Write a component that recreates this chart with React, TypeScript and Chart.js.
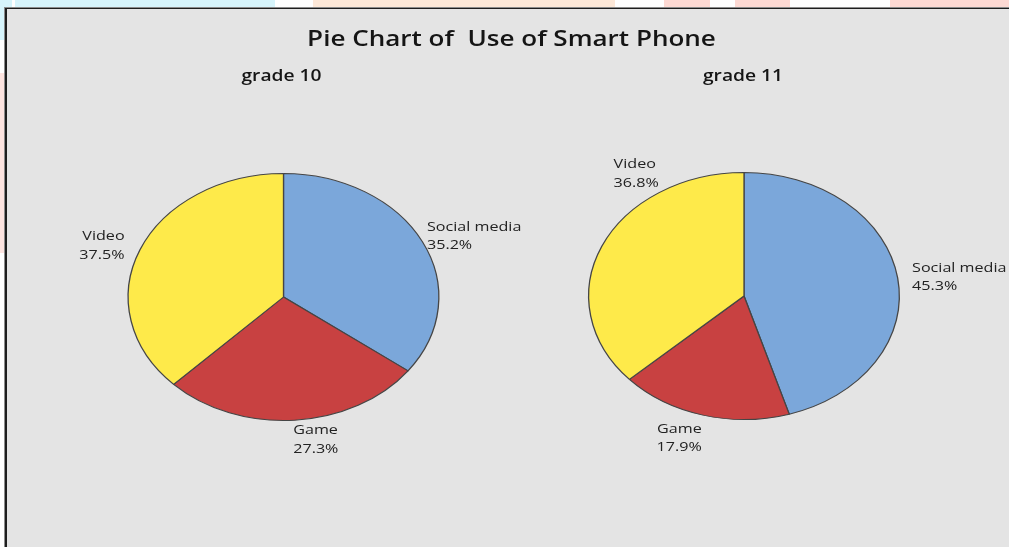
import React, { useEffect, useRef } from "react";
import { Chart, registerables } from "chart.js";

Chart.register(...registerables);

// ---- data ----
const categories = ["Social media", "Game", "Video"];
const grade10Values = [35.2, 27.3, 37.5];
const grade11Values = [45.3, 17.9, 36.8];
const groupTitles = ["grade 10", "grade 11"];
const chartTitle = "Pie Chart of  Use of Smart Phone";
const sliceColors = ["#7ba7da", "#c84141", "#feea4a"];

const W = 1009;
const H = 547;
const STRETCH = 1.24;
const SY = 0.795;

const backgroundPlugin = {
  id: "bgPanel",
  beforeDraw(chart: any) {
    const ctx = chart.ctx;
    ctx.save();
    ctx.fillStyle = "#ffffff";
    ctx.fillRect(0, 0, W, H);
    // faint watermark strips outside the panel
    ctx.fillStyle = "#d6f4fb";
    ctx.fillRect(0, 0, 12, 7);
    ctx.fillRect(15, 0, 260, 7);
    ctx.fillRect(0, 0, 4, 40);
    ctx.fillStyle = "#fde8d8";
    ctx.fillRect(313, 0, 302, 7);
    ctx.fillStyle = "#fdd9d3";
    ctx.fillRect(664, 0, 46, 7);
    ctx.fillRect(735, 0, 55, 7);
    ctx.fillRect(890, 0, 119, 7);
    ctx.fillStyle = "#fde4e0";
    ctx.fillRect(0, 73, 4, 180);
    // panel
    ctx.fillStyle = "#8c8c8c";
    ctx.fillRect(4, 7, W, H);
    ctx.fillStyle = "#1e1e1e";
    ctx.fillRect(5, 8, W, H);
    ctx.fillStyle = "#e4e4e4";
    ctx.fillRect(7, 9, W, H);
    ctx.restore();
  },
};

const headingsPlugin = {
  id: "headings",
  afterDraw(chart: any, _args: any, opts: any) {
    const ctx = chart.ctx;
    (opts.items || []).forEach((it: any) => {
      ctx.save();
      ctx.translate(it.x, it.y);
      ctx.scale(STRETCH, 1);
      ctx.font = it.font;
      ctx.fillStyle = "#151515";
      ctx.textAlign = "center";
      ctx.textBaseline = "alphabetic";
      ctx.fillText(it.text, 0, 0);
      ctx.restore();
    });
  },
};

const ellipsePlugin = {
  id: "ellipse",
  beforeDatasetsDraw(chart: any, _args: any, opts: any) {
    const arc = chart.getDatasetMeta(0).data[0];
    const ctx = chart.ctx;
    ctx.save();
    ctx.translate(arc.x, arc.y);
    ctx.scale(1, opts.sy);
    ctx.translate(-arc.x, -arc.y);
  },
  afterDatasetsDraw(chart: any) {
    chart.ctx.restore();
  },
};

const sliceLabelPlugin = {
  id: "sliceLabels",
  afterDraw(chart: any, _args: any, opts: any) {
    const ctx = chart.ctx;
    const meta = chart.getDatasetMeta(0);
    const data = chart.data.datasets[0].data;
    meta.data.forEach((arc: any, i: number) => {
      const p = arc.getProps(["x", "y", "startAngle", "endAngle", "outerRadius"], true);
      const mid = (p.startAngle + p.endAngle) / 2;
      const px = p.x + p.outerRadius * Math.cos(mid);
      const py = p.y + p.outerRadius * opts.sy * Math.sin(mid);
      const n = opts.nudges[i];
      ctx.save();
      ctx.translate(px + n.dx, py + n.dy);
      ctx.scale(STRETCH, 1);
      ctx.font = '13px "Open Sans"';
      ctx.fillStyle = "#222222";
      ctx.textAlign = n.align;
      ctx.textBaseline = "alphabetic";
      ctx.fillText(chart.data.labels[i], 0, 0);
      ctx.fillText(Number(data[i]).toFixed(1) + "%", 0, opts.lineGap);
      ctx.restore();
    });
  },
};

function makeConfig(values: number[], padding: any, plugins: any[], pluginOpts: any) {
  return {
    type: "pie" as const,
    data: {
      labels: categories,
      datasets: [
        {
          data: values,
          backgroundColor: sliceColors,
          borderColor: "#454545",
          borderWidth: 1.3,
        },
      ],
    },
    options: {
      responsive: false,
      maintainAspectRatio: false,
      animation: false as const,
      events: [],
      layout: { padding },
      plugins: {
        legend: { display: false },
        tooltip: { enabled: false },
        title: { display: false },
        ...pluginOpts,
      },
    },
    plugins,
  };
}

export default function App() {
  const ref1 = useRef<HTMLCanvasElement>(null);
  const ref2 = useRef<HTMLCanvasElement>(null);

  useEffect(() => {
    const c1 = new Chart(
      ref1.current as HTMLCanvasElement,
      makeConfig(
        grade10Values,
        { left: 127.5, right: 569.5, top: 141, bottom: 94 },
        [backgroundPlugin, ellipsePlugin, sliceLabelPlugin, headingsPlugin],
        {
          ellipse: { sy: SY },
          sliceLabels: {
            sy: SY,
            lineGap: 18.5,
            nudges: [
              { dx: 4.6, dy: -10.7, align: "left" },
              { dx: -1.5, dy: 14.3, align: "left" },
              { dx: -15.4, dy: -9.5, align: "right" },
            ],
          },
          headings: {
            items: [
              { text: chartTitle, x: 511.5, y: 46, font: '600 21px "Open Sans"' },
              { text: groupTitles[0], x: 281.5, y: 80.5, font: '600 15.5px "Open Sans"' },
            ],
          },
        }
      ) as any
    );
    const c2 = new Chart(
      ref2.current as HTMLCanvasElement,
      makeConfig(
        grade11Values,
        { left: 588, right: 109, top: 140, bottom: 95 },
        [ellipsePlugin, sliceLabelPlugin, headingsPlugin],
        {
          ellipse: { sy: SY },
          sliceLabels: {
            sy: SY,
            lineGap: 18.5,
            nudges: [
              { dx: 14.4, dy: -6.1, align: "left" },
              { dx: -1.3, dy: 17.4, align: "right" },
              { dx: 11.8, dy: -78, align: "left" },
            ],
          },
          headings: {
            items: [{ text: groupTitles[1], x: 743, y: 80.5, font: '600 15.5px "Open Sans"' }],
          },
        }
      ) as any
    );
    return () => {
      c1.destroy();
      c2.destroy();
    };
  }, []);

  const cStyle: React.CSSProperties = { position: "absolute", left: 0, top: 0, width: W, height: H, display: "block" };
  return (
    <div style={{ position: "absolute", left: 0, top: 0, width: W, height: H, overflow: "hidden", background: "#fff" }}>
      <canvas ref={ref1} width={W} height={H} style={cStyle} />
      <canvas ref={ref2} width={W} height={H} style={cStyle} />
    </div>
  );
}
